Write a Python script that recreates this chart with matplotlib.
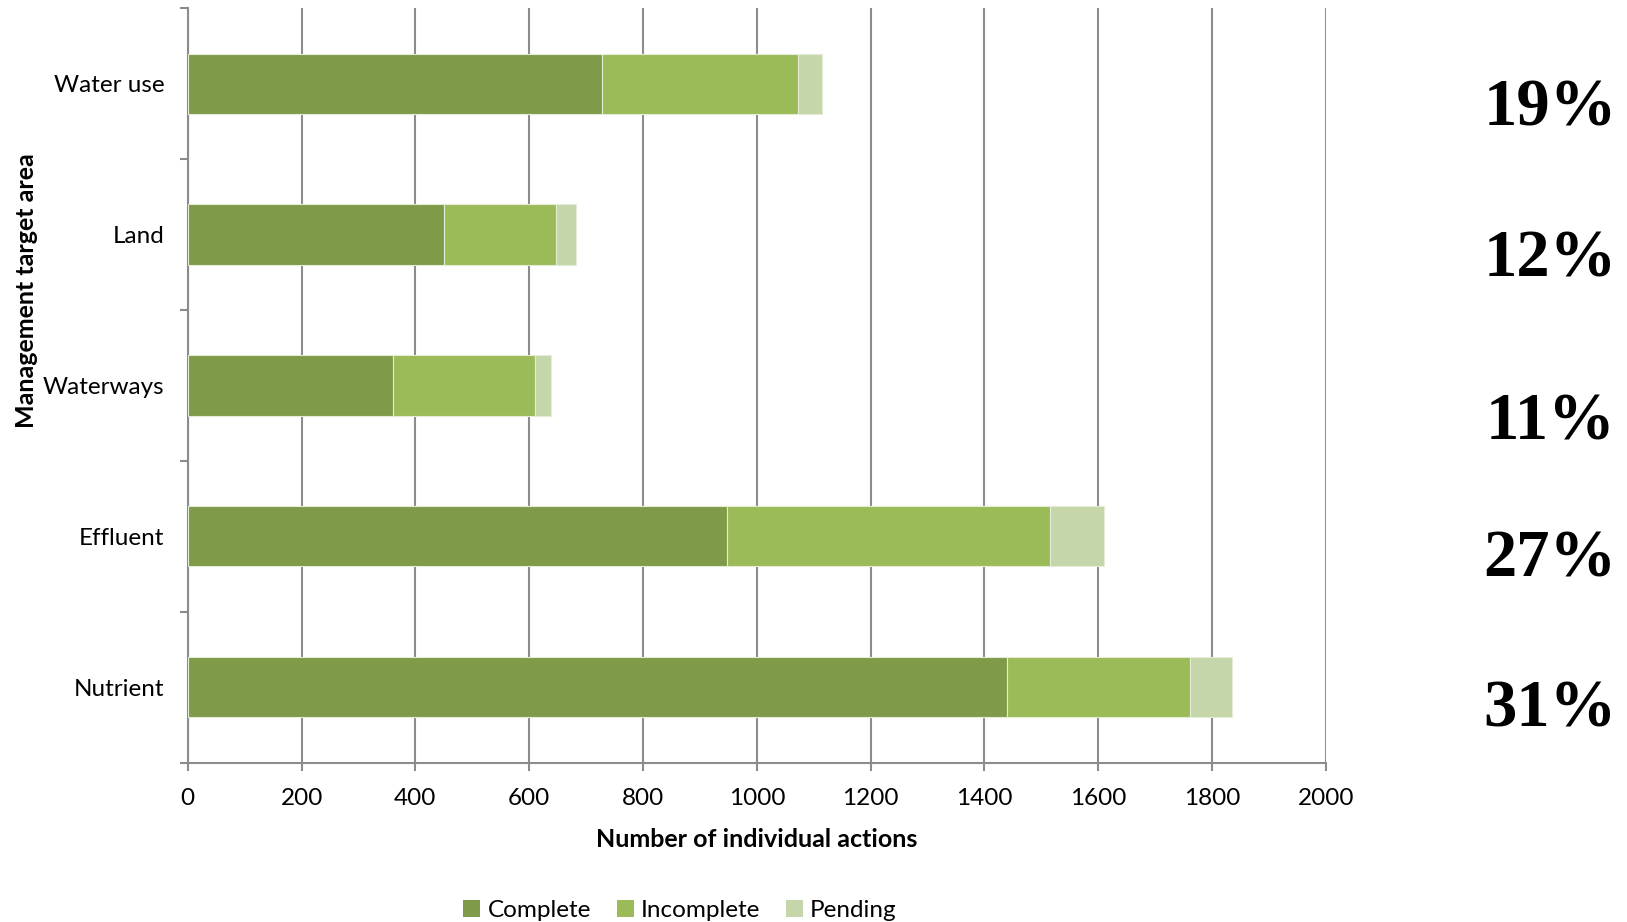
import matplotlib
matplotlib.use("Agg")
import matplotlib.pyplot as plt
import matplotlib.transforms as mtransforms
from matplotlib.patches import Patch
import numpy as np

# Management target areas, listed top to bottom
categories = ["Water use", "Land", "Waterways", "Effluent", "Nutrient"]
complete = [728, 451, 360, 947, 1440]
incomplete = [345, 197, 250, 568, 322]
pending = [42, 35, 28, 95, 73]

x_ticks = [0, 200, 400, 600, 800, 1000, 1200, 1400, 1600, 1800, 2000]

colors = {"Complete": "#7F9A48", "Incomplete": "#9BBB59", "Pending": "#C6D6AB"}

plt.rcParams["font.family"] = ["Lato", "DejaVu Sans"]

fig = plt.figure(figsize=(16.27, 9.22), dpi=100)
ax = fig.add_axes([0.1154, 0.1729, 0.6995, 0.818])

y = np.arange(len(categories))
comp = np.array(complete)
inc = np.array(incomplete)
pen = np.array(pending)
bar_h = 0.4
edge = dict(edgecolor="#E4ECD6", linewidth=0.8)
ax.barh(y, comp, height=bar_h, color=colors["Complete"], zorder=3, **edge)
ax.barh(y, inc, left=comp, height=bar_h, color=colors["Incomplete"], zorder=3, **edge)
ax.barh(y, pen, left=comp + inc, height=bar_h, color=colors["Pending"], zorder=3, **edge)

ax.set_xlim(0, 2000)
ax.set_ylim(len(categories) - 0.5, -0.5)

# vertical gridlines
ax.set_xticks(x_ticks)
ax.xaxis.grid(True, color="#8C8C8C", linewidth=1.5, zorder=0)
ax.tick_params(axis="x", length=6, width=1.5, color="#8C8C8C", labelsize=17.5, pad=12)

# category boundaries carry the tick marks; labels sit at bar centres
ax.set_yticks(np.arange(-0.5, len(categories)), labels=[""] * (len(categories) + 1))
ax.set_yticks(y, labels=categories, minor=True)
ax.tick_params(axis="y", which="major", length=6, width=1.5, color="#8C8C8C")
ax.tick_params(axis="y", which="minor", length=0, labelsize=17.5, pad=17)

for side in ("top", "right"):
    ax.spines[side].set_visible(False)
for side in ("left", "bottom"):
    ax.spines[side].set_color("#8C8C8C")
    ax.spines[side].set_linewidth(1.5)

ax.set_xlabel("Number of individual actions", fontsize=18, fontweight="bold", labelpad=14)
fig.text(0.0165, 0.685, "Management target area", rotation=90, ha="center", va="center",
         fontsize=18, fontweight="bold")

# share of all actions per target area
totals = comp + inc + pen
shares = np.round(100 * totals / totals.sum()).astype(int)
label_offsets = [0.17, 0.17, 0.25, 0.16, 0.15]
trans = mtransforms.blended_transform_factory(ax.transAxes, ax.transData)
for yi, s, off in zip(y, shares, label_offsets):
    ax.text(1.197, yi + off, f"{s}%", transform=trans, ha="center", va="center",
            fontsize=48, fontweight="bold", family="Liberation Serif", clip_on=False)

handles = [Patch(facecolor=c, edgecolor="none", label=k) for k, c in colors.items()]
fig.legend(handles=handles, loc="center", bbox_to_anchor=(0.418, 0.012), ncol=3,
           frameon=False, fontsize=17.5, handlelength=0.7, handleheight=0.7,
           handletextpad=0.3, columnspacing=1.05)

fig.savefig("out.png", dpi=100)
